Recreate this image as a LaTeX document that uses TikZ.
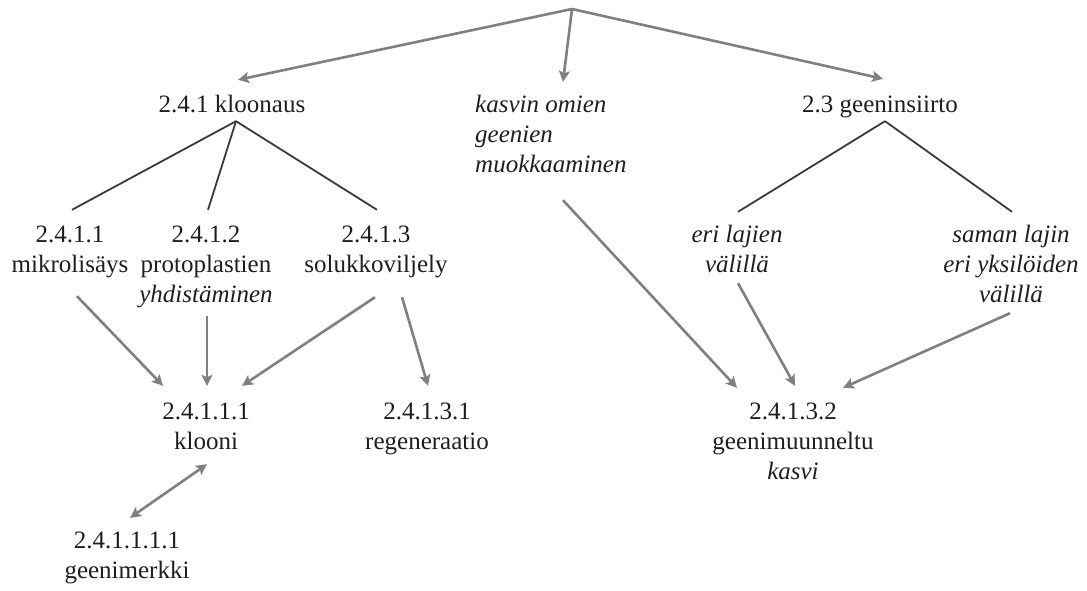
\documentclass[tikz,border=0pt]{standalone}
\usepackage{fontspec}
\setmainfont{Liberation Serif}
\usetikzlibrary{arrows.meta}
\definecolor{ink}{HTML}{1E1E1E}
\definecolor{treegray}{HTML}{3A3A3A}
\definecolor{arrgray}{HTML}{808080}
% centred / left-aligned stacks whose baseline is the first line
\newcommand\cstack[1]{\begin{tabular}[t]{@{}c@{}}#1\end{tabular}}
\newcommand\lstack[1]{\begin{tabular}[t]{@{}l@{}}#1\end{tabular}}
\begin{document}
\begin{tikzpicture}[x=1pt,y=-1pt,
  lbl/.style={inner sep=0pt, anchor=base, text=ink, font=\fontsize{25}{30}\selectfont},
  tree/.style={draw=treegray, line width=1.8pt},
  arr/.style={draw=arrgray, line width=2.6pt, -{Stealth[length=11pt,width=11pt,inset=2.5pt]}},
  dblarr/.style={draw=arrgray, line width=2.6pt, {Stealth[length=11pt,width=11pt,inset=2.5pt]}-{Stealth[length=11pt,width=11pt,inset=2.5pt]}}]
\useasboundingbox (0,0) rectangle (1087,590);

\coordinate (top) at (572,9);

% level 1
\node[lbl] (kloon) at (232,112) {\cstack{2.4.1 kloonaus}};
\node[lbl, anchor=base west] (kasvin) at (475,112) {\lstack{\itshape kasvin omien\\\itshape geenien\\\itshape muokkaaminen}};
\node[lbl] (geen) at (880,112) {\cstack{2.3 geeninsiirto}};

% level 2
\node[lbl] (n2411) at (70,242) {\cstack{2.4.1.1\\mikrolisäys}};
\node[lbl] (n2412) at (206,242) {\cstack{2.4.1.2\\protoplastien\\\itshape yhdistäminen}};
\node[lbl] (n2413) at (376,242) {\cstack{2.4.1.3\\solukkoviljely}};
\node[lbl] (eri) at (737,242) {\cstack{\itshape eri lajien\\\itshape välillä}};
\node[lbl] (saman) at (1011,242) {\cstack{\itshape saman lajin\\\itshape eri yksilöiden\\\itshape välillä}};

% level 3
\node[lbl] (klooni) at (206,419) {\cstack{2.4.1.1.1\\klooni}};
\node[lbl] (regen) at (427,419) {\cstack{2.4.1.3.1\\regeneraatio}};
\node[lbl] (gmo) at (793,419) {\cstack{2.4.1.3.2\\geenimuunneltu\\\itshape kasvi}};

% level 4
\node[lbl] (merkki) at (127,548) {\cstack{2.4.1.1.1.1\\geenimerkki}};

% arrows from the top
\draw[arr] (top) -- ([xshift=6pt,yshift=11pt]kloon.north);
\draw[arr] (top) -- ([xshift=88pt,yshift=9pt]kasvin.north west);
\draw[arr] (top) -- ([xshift=3pt,yshift=12pt]geen.north);

% tree branches
\draw[tree] ([xshift=4pt]kloon.south) -- ([xshift=2pt,yshift=11pt]n2411.north);
\draw[tree] ([xshift=4pt]kloon.south) -- ([xshift=2pt,yshift=11pt]n2412.north);
\draw[tree] ([xshift=4pt]kloon.south) -- ([xshift=1pt,yshift=11pt]n2413.north);
\draw[tree] ([xshift=5pt]geen.south) -- ([xshift=1pt,yshift=9pt]eri.north);
\draw[tree] ([xshift=5pt]geen.south) -- ([xshift=1pt,yshift=9pt]saman.north);

% arrows between the lower levels
\draw[arr] ([xshift=7pt,yshift=-15pt]n2411.south) -- ([xshift=-43pt,yshift=12pt]klooni.north);
\draw[arr] ([xshift=1pt,yshift=-5pt]n2412.south) -- ([xshift=1pt,yshift=12pt]klooni.north);
\draw[arr] ([xshift=-1pt,yshift=-16pt]n2413.south) -- ([xshift=36pt,yshift=12pt]klooni.north);
\draw[arr] ([xshift=26pt,yshift=-16pt]n2413.south) -- ([xshift=1pt,yshift=12pt]regen.north);
\draw[dblarr] ([xshift=1pt,yshift=-6pt]klooni.south) -- ([xshift=3pt,yshift=9pt]merkki.north);
\draw[arr] ([xshift=88pt,yshift=-19pt]kasvin.south west) -- ([xshift=-56pt,yshift=10pt]gmo.north);
\draw[arr] ([xshift=1pt,yshift=-2pt]eri.south) -- ([xshift=2pt,yshift=12pt]gmo.north);
\draw[arr] ([xshift=-1pt,yshift=-2pt]saman.south) -- ([xshift=50pt,yshift=10pt]gmo.north);
\end{tikzpicture}
\end{document}
